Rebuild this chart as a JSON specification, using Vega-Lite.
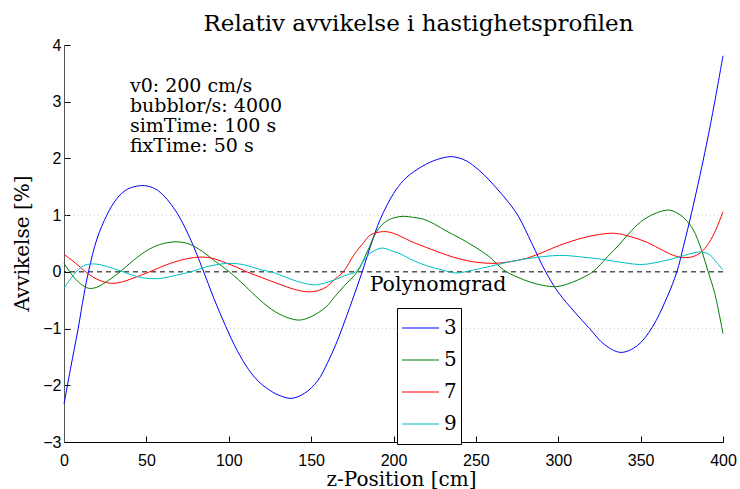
{
  "$schema": "https://vega.github.io/schema/vega-lite/v6.json",
  "width": 659,
  "height": 397,
  "autosize": {"type": "none"},
  "padding": {"left": 64, "top": 45, "right": 17, "bottom": 47},
  "background": "white",
  "title": {"text": "Relativ avvikelse i hastighetsprofilen", "font": "DejaVu Serif", "fontSize": 23, "fontWeight": "normal", "color": "black", "anchor": "middle", "dx": 25, "offset": 14, "dy": 31, "baseline": "alphabetic"},
  "config": {
    "view": {"stroke": null},
    "axis": {"grid": false, "labelFont": "Liberation Sans", "labelFontSize": 16, "labelColor": "black", "tickColor": "black", "tickSize": -6, "titleFont": "DejaVu Serif", "titleFontSize": 20, "titleFontWeight": "normal", "titleColor": "black", "labelFlush": false}
  },
  "datasets": {
    "curves": [
      {"z":0,"grad":"3","avvik":-2.33},{"z":4,"grad":"3","avvik":-1.7},{"z":8.6,"grad":"3","avvik":-1.0},{"z":12,"grad":"3","avvik":-0.42},{"z":15,"grad":"3","avvik":0.02},{"z":20,"grad":"3","avvik":0.58},{"z":26,"grad":"3","avvik":1.0},{"z":32,"grad":"3","avvik":1.29},{"z":38,"grad":"3","avvik":1.45},{"z":44,"grad":"3","avvik":1.51},{"z":49,"grad":"3","avvik":1.52},{"z":55,"grad":"3","avvik":1.47},{"z":60,"grad":"3","avvik":1.36},{"z":65,"grad":"3","avvik":1.19},{"z":70,"grad":"3","avvik":0.97},{"z":77,"grad":"3","avvik":0.56},{"z":84,"grad":"3","avvik":0.06},{"z":91,"grad":"3","avvik":-0.47},{"z":98,"grad":"3","avvik":-0.95},{"z":105,"grad":"3","avvik":-1.38},{"z":112,"grad":"3","avvik":-1.72},{"z":118,"grad":"3","avvik":-1.93},{"z":123,"grad":"3","avvik":-2.05},{"z":130,"grad":"3","avvik":-2.17},{"z":138,"grad":"3","avvik":-2.23},{"z":146,"grad":"3","avvik":-2.14},{"z":154,"grad":"3","avvik":-1.92},{"z":160,"grad":"3","avvik":-1.6},{"z":165,"grad":"3","avvik":-1.28},{"z":169,"grad":"3","avvik":-0.98},{"z":175,"grad":"3","avvik":-0.5},{"z":181,"grad":"3","avvik":0.0},{"z":186,"grad":"3","avvik":0.45},{"z":192,"grad":"3","avvik":0.93},{"z":200,"grad":"3","avvik":1.38},{"z":206,"grad":"3","avvik":1.61},{"z":212,"grad":"3","avvik":1.76},{"z":222,"grad":"3","avvik":1.93},{"z":230,"grad":"3","avvik":2.01},{"z":236,"grad":"3","avvik":2.03},{"z":244,"grad":"3","avvik":1.96},{"z":252,"grad":"3","avvik":1.79},{"z":258,"grad":"3","avvik":1.62},{"z":263,"grad":"3","avvik":1.46},{"z":270,"grad":"3","avvik":1.22},{"z":276,"grad":"3","avvik":0.97},{"z":284,"grad":"3","avvik":0.5},{"z":292,"grad":"3","avvik":0.02},{"z":300,"grad":"3","avvik":-0.36},{"z":310,"grad":"3","avvik":-0.71},{"z":319,"grad":"3","avvik":-1.0},{"z":328,"grad":"3","avvik":-1.28},{"z":338,"grad":"3","avvik":-1.42},{"z":348,"grad":"3","avvik":-1.3},{"z":357,"grad":"3","avvik":-0.98},{"z":366,"grad":"3","avvik":-0.45},{"z":372,"grad":"3","avvik":0.0},{"z":376,"grad":"3","avvik":0.45},{"z":381,"grad":"3","avvik":1.05},{"z":386,"grad":"3","avvik":1.7},{"z":390,"grad":"3","avvik":2.25},{"z":395,"grad":"3","avvik":3.0},{"z":400,"grad":"3","avvik":3.81},
      {"z":0,"grad":"5","avvik":0.15},{"z":5,"grad":"5","avvik":-0.06},{"z":10,"grad":"5","avvik":-0.21},{"z":15,"grad":"5","avvik":-0.29},{"z":20,"grad":"5","avvik":-0.27},{"z":27,"grad":"5","avvik":-0.15},{"z":34,"grad":"5","avvik":0.0},{"z":42,"grad":"5","avvik":0.2},{"z":50,"grad":"5","avvik":0.37},{"z":58,"grad":"5","avvik":0.48},{"z":68,"grad":"5","avvik":0.53},{"z":76,"grad":"5","avvik":0.49},{"z":84,"grad":"5","avvik":0.36},{"z":92,"grad":"5","avvik":0.18},{"z":100,"grad":"5","avvik":0.01},{"z":110,"grad":"5","avvik":-0.25},{"z":119,"grad":"5","avvik":-0.5},{"z":128,"grad":"5","avvik":-0.7},{"z":136,"grad":"5","avvik":-0.81},{"z":143,"grad":"5","avvik":-0.85},{"z":150,"grad":"5","avvik":-0.79},{"z":159,"grad":"5","avvik":-0.62},{"z":164,"grad":"5","avvik":-0.45},{"z":170,"grad":"5","avvik":-0.25},{"z":178,"grad":"5","avvik":0.0},{"z":184,"grad":"5","avvik":0.35},{"z":190,"grad":"5","avvik":0.72},{"z":195,"grad":"5","avvik":0.88},{"z":200,"grad":"5","avvik":0.95},{"z":206,"grad":"5","avvik":0.98},{"z":212,"grad":"5","avvik":0.96},{"z":218,"grad":"5","avvik":0.93},{"z":225,"grad":"5","avvik":0.84},{"z":232,"grad":"5","avvik":0.72},{"z":240,"grad":"5","avvik":0.6},{"z":250,"grad":"5","avvik":0.43},{"z":258,"grad":"5","avvik":0.27},{"z":267,"grad":"5","avvik":0.03},{"z":275,"grad":"5","avvik":-0.09},{"z":283,"grad":"5","avvik":-0.18},{"z":291,"grad":"5","avvik":-0.24},{"z":299,"grad":"5","avvik":-0.26},{"z":308,"grad":"5","avvik":-0.19},{"z":315,"grad":"5","avvik":-0.1},{"z":321,"grad":"5","avvik":0.0},{"z":330,"grad":"5","avvik":0.27},{"z":337,"grad":"5","avvik":0.48},{"z":343,"grad":"5","avvik":0.68},{"z":350,"grad":"5","avvik":0.88},{"z":358,"grad":"5","avvik":1.02},{"z":367,"grad":"5","avvik":1.09},{"z":372,"grad":"5","avvik":1.04},{"z":377,"grad":"5","avvik":0.93},{"z":382,"grad":"5","avvik":0.74},{"z":387,"grad":"5","avvik":0.38},{"z":391,"grad":"5","avvik":0.0},{"z":395,"grad":"5","avvik":-0.38},{"z":400,"grad":"5","avvik":-1.09},
      {"z":0,"grad":"7","avvik":0.31},{"z":5,"grad":"7","avvik":0.2},{"z":10,"grad":"7","avvik":0.08},{"z":15,"grad":"7","avvik":-0.04},{"z":20,"grad":"7","avvik":-0.13},{"z":28,"grad":"7","avvik":-0.2},{"z":35,"grad":"7","avvik":-0.18},{"z":42,"grad":"7","avvik":-0.11},{"z":52,"grad":"7","avvik":0.0},{"z":60,"grad":"7","avvik":0.1},{"z":70,"grad":"7","avvik":0.2},{"z":82,"grad":"7","avvik":0.26},{"z":90,"grad":"7","avvik":0.24},{"z":98,"grad":"7","avvik":0.16},{"z":105,"grad":"7","avvik":0.08},{"z":111,"grad":"7","avvik":0.0},{"z":120,"grad":"7","avvik":-0.1},{"z":130,"grad":"7","avvik":-0.21},{"z":140,"grad":"7","avvik":-0.31},{"z":147,"grad":"7","avvik":-0.35},{"z":153,"grad":"7","avvik":-0.34},{"z":159,"grad":"7","avvik":-0.27},{"z":164,"grad":"7","avvik":-0.14},{"z":169.5,"grad":"7","avvik":0.0},{"z":176,"grad":"7","avvik":0.3},{"z":182,"grad":"7","avvik":0.52},{"z":186,"grad":"7","avvik":0.65},{"z":194,"grad":"7","avvik":0.71},{"z":200,"grad":"7","avvik":0.68},{"z":204,"grad":"7","avvik":0.63},{"z":212,"grad":"7","avvik":0.52},{"z":220,"grad":"7","avvik":0.43},{"z":232,"grad":"7","avvik":0.3},{"z":240,"grad":"7","avvik":0.23},{"z":250,"grad":"7","avvik":0.17},{"z":261,"grad":"7","avvik":0.15},{"z":271,"grad":"7","avvik":0.18},{"z":281,"grad":"7","avvik":0.24},{"z":291,"grad":"7","avvik":0.35},{"z":301,"grad":"7","avvik":0.47},{"z":315,"grad":"7","avvik":0.6},{"z":325,"grad":"7","avvik":0.66},{"z":334,"grad":"7","avvik":0.68},{"z":344,"grad":"7","avvik":0.62},{"z":354,"grad":"7","avvik":0.52},{"z":364,"grad":"7","avvik":0.37},{"z":371,"grad":"7","avvik":0.28},{"z":377,"grad":"7","avvik":0.25},{"z":382,"grad":"7","avvik":0.27},{"z":386,"grad":"7","avvik":0.33},{"z":390,"grad":"7","avvik":0.45},{"z":395,"grad":"7","avvik":0.7},{"z":400,"grad":"7","avvik":1.06},
      {"z":0,"grad":"9","avvik":-0.29},{"z":4,"grad":"9","avvik":-0.12},{"z":8,"grad":"9","avvik":0.02},{"z":12,"grad":"9","avvik":0.11},{"z":17,"grad":"9","avvik":0.14},{"z":23,"grad":"9","avvik":0.12},{"z":30,"grad":"9","avvik":0.06},{"z":36,"grad":"9","avvik":0.0},{"z":44,"grad":"9","avvik":-0.08},{"z":52,"grad":"9","avvik":-0.12},{"z":60,"grad":"9","avvik":-0.11},{"z":68,"grad":"9","avvik":-0.06},{"z":77,"grad":"9","avvik":0.0},{"z":88,"grad":"9","avvik":0.1},{"z":100,"grad":"9","avvik":0.15},{"z":110,"grad":"9","avvik":0.12},{"z":119,"grad":"9","avvik":0.04},{"z":127,"grad":"9","avvik":-0.01},{"z":135,"grad":"9","avvik":-0.1},{"z":143,"grad":"9","avvik":-0.18},{"z":152,"grad":"9","avvik":-0.23},{"z":159,"grad":"9","avvik":-0.19},{"z":166,"grad":"9","avvik":-0.12},{"z":172,"grad":"9","avvik":-0.05},{"z":177,"grad":"9","avvik":0.0},{"z":182,"grad":"9","avvik":0.2},{"z":186,"grad":"9","avvik":0.33},{"z":193,"grad":"9","avvik":0.42},{"z":199,"grad":"9","avvik":0.37},{"z":204,"grad":"9","avvik":0.32},{"z":212,"grad":"9","avvik":0.2},{"z":220,"grad":"9","avvik":0.11},{"z":230,"grad":"9","avvik":0.03},{"z":238,"grad":"9","avvik":-0.02},{"z":248,"grad":"9","avvik":0.03},{"z":259,"grad":"9","avvik":0.1},{"z":271,"grad":"9","avvik":0.18},{"z":283,"grad":"9","avvik":0.24},{"z":301,"grad":"9","avvik":0.29},{"z":315,"grad":"9","avvik":0.26},{"z":327,"grad":"9","avvik":0.22},{"z":340,"grad":"9","avvik":0.16},{"z":351,"grad":"9","avvik":0.13},{"z":362,"grad":"9","avvik":0.18},{"z":372,"grad":"9","avvik":0.25},{"z":380,"grad":"9","avvik":0.32},{"z":387,"grad":"9","avvik":0.35},{"z":392,"grad":"9","avvik":0.3},{"z":396,"grad":"9","avvik":0.17},{"z":400,"grad":"9","avvik":0.03}
    ]
  },
  "layer": [
    {
      "data": {"values": [{"gridval": 1}, {"gridval": -1}]},
      "mark": {"type": "rule", "stroke": "#c8c8c8", "strokeWidth": 1, "strokeDash": [1, 3]},
      "encoding": {"y": {"field": "gridval", "type": "quantitative"}}
    },
    {
      "data": {"values": [{"nivå": 0}]},
      "mark": {"type": "rule", "stroke": "black", "strokeWidth": 1, "strokeDash": [5, 4]},
      "encoding": {"y": {"field": "nivå", "type": "quantitative"}}
    },
    {
      "data": {"name": "curves"},
      "mark": {"type": "line", "interpolate": "catmull-rom", "strokeWidth": 1},
      "encoding": {
        "x": {"field": "z", "type": "quantitative", "scale": {"domain": [0, 400], "nice": false}, "axis": {"title": "z-Position [cm]", "values": [0, 50, 100, 150, 200, 250, 300, 350, 400], "format": "d", "labelPadding": 16, "domainColor": "black", "titleX": 337, "titleY": 43, "titleBaseline": "alphabetic", "titleAlign": "center"}},
        "y": {"field": "avvik", "type": "quantitative", "scale": {"domain": [-3, 4], "nice": false}, "axis": {"title": "Avvikelse [%]", "values": [-3, -2, -1, 0, 1, 2, 3, 4], "format": "d", "labelPadding": 9, "domainColor": "#555555", "titleX": -42, "titleY": 198, "titleAngle": 270, "titleAlign": "center", "titleBaseline": "middle"}},
        "color": {"field": "grad", "type": "nominal", "scale": {"domain": ["3", "5", "7", "9"], "range": ["#0000ff", "#008000", "#ff0000", "#00bfbf"]},
          "legend": {"title": null, "orient": "none", "legendX": 333, "legendY": 263, "symbolType": "stroke", "symbolSize": 1369, "symbolStrokeWidth": 1.2, "labelFont": "DejaVu Serif", "labelFontSize": 20, "labelColor": "black", "labelOffset": 4, "padding": 4, "strokeColor": "black", "fillColor": "white", "clipHeight": 32, "rowPadding": 0}},
        "detail": {"field": "grad"}
      }
    },
    {
      "data": {"values": [{"info": "v0: 200 cm/s\nbubblor/s: 4000\nsimTime: 100 s\nfixTime: 50 s"}]},
      "mark": {"type": "text", "align": "left", "baseline": "alphabetic", "font": "DejaVu Serif", "fontSize": 19, "lineHeight": 20, "lineBreak": "\n", "color": "black"},
      "encoding": {"x": {"datum": 40}, "y": {"datum": 3.17}, "text": {"field": "info"}}
    },
    {
      "data": {"values": [{"tittel": "Polynomgrad"}]},
      "mark": {"type": "text", "align": "center", "baseline": "alphabetic", "font": "DejaVu Serif", "fontSize": 20.5, "color": "black"},
      "encoding": {"x": {"datum": 227}, "y": {"datum": -0.335}, "text": {"field": "tittel"}}
    }
  ]
}
